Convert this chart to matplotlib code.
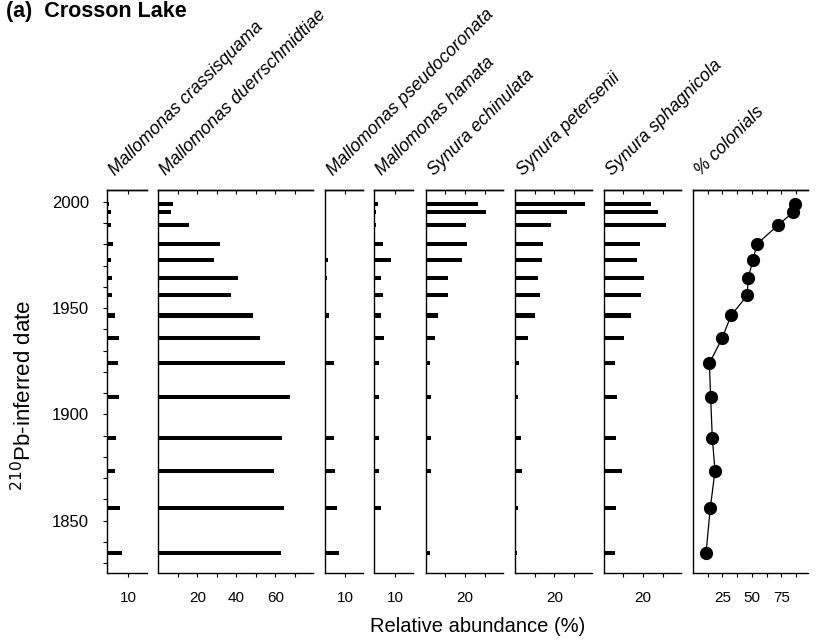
import numpy as np
import matplotlib.pyplot as plt

plt.rcParams['font.family'] = ['Liberation Sans', 'DejaVu Sans']

# sample dates (210Pb-inferred)
dates = [1999, 1995, 1989, 1980, 1972.5, 1964, 1956, 1946.5, 1936, 1924,
         1908, 1889, 1873.5, 1856, 1835]

m_crassisquama = [1.0, 1.6, 1.6, 2.6, 1.8, 2.4, 2.4, 3.7, 5.6, 4.9,
                  5.4, 4.0, 3.7, 5.9, 6.9]
m_duerrschmidtiae = [7.6, 6.5, 15.9, 31.7, 28.8, 40.8, 37.2, 48.8, 52.3, 65.0,
                     67.7, 63.4, 59.1, 64.3, 63.1]
m_pseudocoronata = [0, 0, 0.5, 0, 1.3, 0.8, 0.7, 2.2, 0.7, 4.3,
                    0.3, 4.7, 5.0, 6.0, 6.8]
m_hamata = [1.9, 0.7, 0.8, 4.2, 7.9, 3.2, 4.0, 3.2, 4.5, 2.4,
            2.1, 2.1, 2.3, 3.1, 0]
s_echinulata = [26.5, 30.5, 20.5, 20.8, 18.3, 11.5, 11.2, 6.2, 4.7, 2.3,
                2.8, 2.8, 2.8, 0.8, 2.3]
s_petersenii = [35.4, 26.6, 18.3, 14.2, 13.9, 11.8, 12.8, 10.2, 6.4, 2.0,
                1.7, 3.0, 3.7, 1.7, 0.8]
s_sphagnicola = [24.0, 27.6, 31.8, 18.3, 16.8, 20.6, 18.9, 13.9, 10.5, 5.6,
                 6.8, 6.4, 9.3, 6.1, 5.6]
colonials = [87.0, 85.0, 72.3, 54.2, 51.0, 46.8, 46.2, 32.3, 24.9, 13.9,
             15.0, 16.4, 18.7, 14.7, 11.1]

names = ["Mallomonas crassisquama", "Mallomonas duerrschmidtiae",
         "Mallomonas pseudocoronata", "Mallomonas hamata",
         "Synura echinulata", "Synura petersenii", "Synura sphagnicola",
         "% colonials"]
series = [m_crassisquama, m_duerrschmidtiae, m_pseudocoronata, m_hamata,
          s_echinulata, s_petersenii, s_sphagnicola, colonials]

# panel layout in pixels: left, right, xmax, ticks, labelled ticks
W, H = 819, 641
layout = [
    (107.3, 146.7, 18.8, [10], [10]),
    (158.3, 312.7, 79.2, [10, 20, 30, 40, 50, 60, 70], [20, 40, 60]),
    (325.0, 363.3, 19.2, [10], [10]),
    (374.3, 413.3, 18.8, [10], [10]),
    (425.7, 502.7, 39.1, [10, 20, 30], [20]),
    (515.0, 592.3, 39.2, [10, 20, 30], [20]),
    (603.7, 681.0, 39.2, [10, 20, 30], [20]),
    (693.0, 808.3, 98.0, [12.5, 25, 37.5, 50, 62.5, 75, 87.5], [25, 50, 75]),
]
top_px, bot_px = 190.0, 573.3

fig = plt.figure(figsize=(W / 100, H / 100), dpi=100)

for i, (name, vals, (l, r, xmax, ticks, labelled)) in enumerate(zip(names, series, layout)):
    ax = fig.add_axes([l / W, 1 - bot_px / H, (r - l) / W, (bot_px - top_px) / H])
    if i < 7:
        ax.barh(dates, vals, height=1.9, color='black', left=0)
    else:
        ax.plot(vals, dates, color='black', lw=0.9, marker='o', ms=8.5,
                markerfacecolor='black', markeredgecolor='black', clip_on=False)
    ax.set_xlim(0, xmax)
    ax.set_ylim(1825.3, 2005.5)
    ax.spines['right'].set_visible(False)
    for s in ['left', 'top', 'bottom']:
        ax.spines[s].set_linewidth(1.0)
    ax.set_xticks(ticks)
    ax.set_xticklabels([("%g" % t) if t in labelled else "" for t in ticks])
    ax.tick_params(axis='x', direction='out', length=3, width=0.8,
                   labelsize=11, pad=10)
    top = ax.secondary_xaxis('top')
    top.set_xticks(ticks)
    top.set_xticklabels([])
    top.tick_params(direction='in', length=3, width=0.8)
    top.spines['top'].set_linewidth(1.0)
    if i == 0:
        ax.set_yticks([1850, 1900, 1950, 2000])
        ax.set_yticks(np.arange(1830, 2001, 10), minor=True)
        ax.tick_params(axis='y', which='both', direction='out', length=3,
                       width=0.8, labelsize=12, pad=10)
    else:
        ax.set_yticks([])
    fig.text((l + 8) / W, 1 - 176 / H, name, rotation=45, rotation_mode='anchor',
             ha='left', va='baseline', fontsize=12.8, style='italic')

fig.text(478 / W, 1 - 627 / H, "Relative abundance (%)", ha='center',
         va='center', fontsize=14.5)
fig.text(24 / W, 1 - 395 / H, "$^{210}$Pb-inferred date", rotation=90,
         ha='center', va='center', fontsize=16)
fig.text(6 / W, 1 - 11 / H, "(a)  Crosson Lake", ha='left', va='center',
         fontsize=15.5, fontweight='bold')

plt.savefig("out.png", dpi=100)
